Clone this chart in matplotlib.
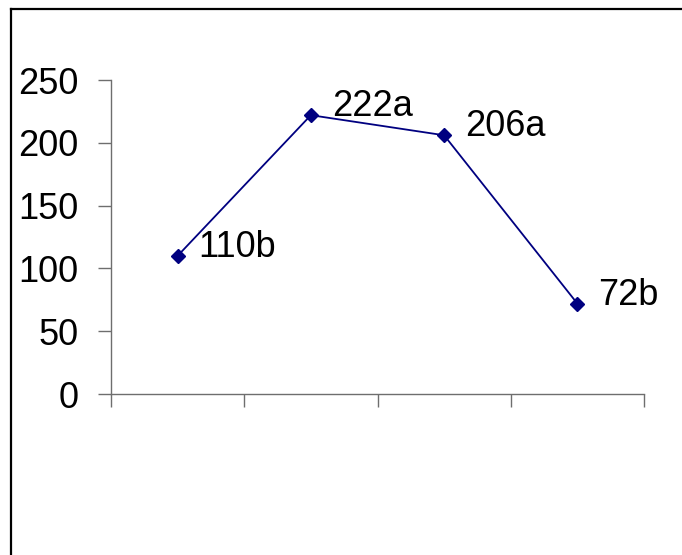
import matplotlib
matplotlib.use("Agg")
import matplotlib.pyplot as plt
from matplotlib.lines import Line2D

categories = [1, 2, 3, 4]
values = [110, 222, 206, 72]
labels = ["110b", "222a", "206a", "72b"]
yticks = [0, 50, 100, 150, 200, 250]

plt.rcParams['font.family'] = ['Liberation Sans Narrow', 'Liberation Sans', 'DejaVu Sans']

W, H = 682, 555
fig = plt.figure(figsize=(W / 100, H / 100), dpi=100)
ax = fig.add_axes([111 / W, 1 - 394 / H, (644 - 111) / W, (394 - 80) / H])

ax.plot(categories, values, color='#000080', lw=1.3, marker='D', markersize=7,
        markerfacecolor='#000080', markeredgecolor='#000080', clip_on=False)
for x, y, t in zip(categories, values, labels):
    ax.annotate(t, (x, y), xytext=(15, 6), textcoords='offset points',
                fontsize=26, va='center', ha='left', color='black')

ax.set_xlim(0.5, 4.5)
ax.set_ylim(0, 250)
ax.set_xticks([0.5, 1.5, 2.5, 3.5, 4.5])
ax.set_xticklabels([])
ax.set_yticks(yticks)
ax.set_yticklabels([str(v) for v in yticks], fontsize=26)
for s in ['top', 'right']:
    ax.spines[s].set_visible(False)
for s in ['left', 'bottom']:
    ax.spines[s].set_color('#6e6e6e')
    ax.spines[s].set_linewidth(1.0)
ax.tick_params(axis='both', direction='out', length=9.5, width=1.0, color='#6e6e6e', pad=14)

# outer frame (left and top edges visible)
fig.add_artist(Line2D([11 / W, 11 / W], [0, 1 - 9 / H], transform=fig.transFigure, color='black', lw=1.6))
fig.add_artist(Line2D([11 / W, 1], [1 - 9 / H, 1 - 9 / H], transform=fig.transFigure, color='black', lw=1.6))

fig.savefig('out.png', dpi=100)
